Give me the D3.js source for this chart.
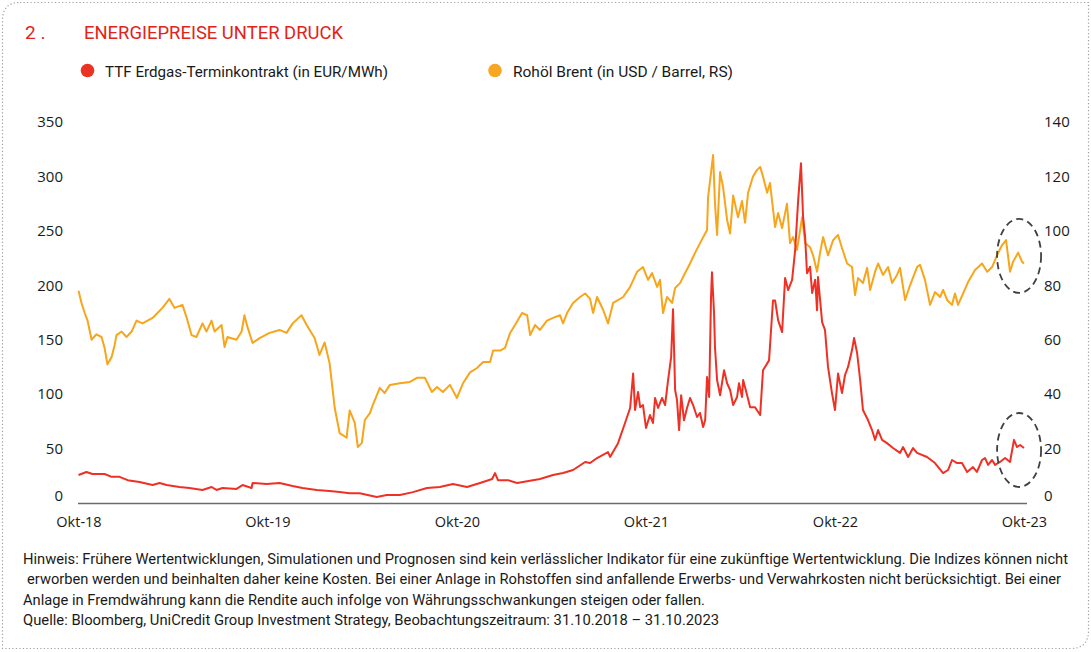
<!DOCTYPE html>
<html><head><meta charset="utf-8">
<script src="https://cdn.jsdelivr.net/npm/d3@7"></script>
<style>body{margin:0;background:#fff;}svg{display:block;}</style>
</head><body>
<svg id="chart" width="1091" height="652"></svg>
<script>
// ---- Data (time in decimal years) ----
const gasTime = [2018.833,2018.875,2018.907,2018.971,2019.008,2019.050,2019.093,2019.156,2019.225,2019.262,2019.299,2019.367,2019.420,2019.489,2019.537,2019.563,2019.595,2019.669,2019.701,2019.749,2019.754,2019.828,2019.897,2019.966,2020.018,2020.093,2020.161,2020.214,2020.267,2020.320,2020.410,2020.463,2020.532,2020.601,2020.675,2020.743,2020.812,2020.886,2020.955,2021.019,2021.034,2021.050,2021.103,2021.151,2021.204,2021.272,2021.341,2021.394,2021.447,2021.511,2021.537,2021.574,2021.632,2021.643,2021.685,2021.722,2021.749,2021.765,2021.775,2021.791,2021.802,2021.817,2021.833,2021.854,2021.870,2021.881,2021.897,2021.918,2021.934,2021.950,2021.966,2021.976,2021.987,2021.997,2022.008,2022.019,2022.034,2022.050,2022.066,2022.082,2022.103,2022.119,2022.135,2022.146,2022.156,2022.167,2022.177,2022.182,2022.193,2022.198,2022.209,2022.225,2022.246,2022.262,2022.278,2022.294,2022.315,2022.325,2022.341,2022.347,2022.368,2022.384,2022.410,2022.437,2022.452,2022.484,2022.505,2022.516,2022.532,2022.553,2022.569,2022.585,2022.606,2022.622,2022.638,2022.653,2022.664,2022.675,2022.685,2022.701,2022.712,2022.728,2022.738,2022.743,2022.765,2022.780,2022.796,2022.817,2022.833,2022.849,2022.870,2022.886,2022.902,2022.923,2022.934,2022.950,2022.966,2022.981,2023.008,2023.029,2023.045,2023.061,2023.082,2023.108,2023.140,2023.177,2023.193,2023.220,2023.246,2023.267,2023.320,2023.362,2023.405,2023.431,2023.452,2023.479,2023.505,2023.532,2023.563,2023.584,2023.611,2023.627,2023.643,2023.664,2023.680,2023.706,2023.733,2023.759,2023.780,2023.796,2023.812,2023.833];
const gasValues = [25.7,28.5,26.6,26.6,24,24,21,19.3,16.5,18.4,16.5,14.7,13.8,12,14.7,12,13.8,12.9,16.5,13.8,18.4,17.5,18.4,15.6,13.8,12,11,10,9,9,5.5,7.3,7.3,10,13.8,14.7,17.5,14.7,18.4,22,27.5,21,21,18.4,20,22,25.7,27.5,30.3,37.7,36.7,41.3,46.8,42.3,55,73.5,87.3,119,85.4,102,88,90,69,80.8,73.5,96.5,87.3,96.5,90,113,134,178,103.8,94.6,67,99,76,87.3,96.5,90,79,82.7,69.8,76,115.7,97.4,189,212,174.5,143,113,99,122,110,103.8,90,97.4,110,97.4,113,99,88,88,80.8,122,131,186,186,168,157,206.7,195.6,205,232,278,312,263,244,211,217,193,205,177,207.6,166,159,125,101,85.4,119,101,117.6,125,140.5,151.6,137.8,113,85.4,76,67,58,67,58,55,50.5,46,51.4,42.3,50.5,46,42.3,36.7,27.5,30.3,39.5,36.7,36.7,28.5,33,28.5,39.5,41.3,35,39.5,35,37.7,41.3,37.7,58,51.4,53.3,50.5];

const brentTime = [2018.833,2018.849,2018.865,2018.881,2018.902,2018.928,2018.955,2018.971,2018.986,2019.008,2019.024,2019.034,2019.061,2019.087,2019.114,2019.140,2019.172,2019.225,2019.277,2019.314,2019.341,2019.383,2019.404,2019.431,2019.457,2019.489,2019.510,2019.537,2019.553,2019.590,2019.606,2019.621,2019.669,2019.696,2019.711,2019.727,2019.754,2019.791,2019.844,2019.897,2019.934,2019.966,2020.013,2020.040,2020.082,2020.108,2020.135,2020.161,2020.188,2020.214,2020.251,2020.267,2020.294,2020.310,2020.331,2020.347,2020.374,2020.389,2020.426,2020.452,2020.479,2020.532,2020.585,2020.622,2020.664,2020.701,2020.728,2020.759,2020.796,2020.833,2020.865,2020.902,2020.939,2020.971,2021.008,2021.024,2021.061,2021.087,2021.114,2021.140,2021.177,2021.204,2021.220,2021.246,2021.272,2021.309,2021.341,2021.378,2021.394,2021.415,2021.447,2021.484,2021.511,2021.537,2021.553,2021.574,2021.606,2021.632,2021.659,2021.712,2021.749,2021.786,2021.817,2021.844,2021.865,2021.892,2021.907,2021.923,2021.944,2021.971,2021.987,2022.013,2022.040,2022.066,2022.093,2022.119,2022.156,2022.161,2022.188,2022.198,2022.209,2022.225,2022.241,2022.262,2022.278,2022.294,2022.320,2022.341,2022.357,2022.373,2022.399,2022.421,2022.437,2022.452,2022.474,2022.489,2022.516,2022.532,2022.553,2022.579,2022.595,2022.611,2022.632,2022.659,2022.675,2022.701,2022.717,2022.738,2022.754,2022.770,2022.796,2022.823,2022.849,2022.870,2022.897,2022.923,2022.939,2022.955,2022.981,2023.003,2023.019,2023.045,2023.061,2023.087,2023.114,2023.135,2023.161,2023.177,2023.204,2023.230,2023.267,2023.283,2023.309,2023.336,2023.362,2023.389,2023.405,2023.426,2023.452,2023.468,2023.484,2023.511,2023.537,2023.574,2023.611,2023.638,2023.664,2023.690,2023.717,2023.738,2023.759,2023.775,2023.802,2023.823,2023.833];
const brentValues = [78,73.5,70,67,60,62,61,57,51,53.6,58,61.7,63,61,63,67,66,68,71.7,75,71.7,72.8,68.4,61.7,61,66,63,67,63,65.4,57.3,61,60,63,69,64.7,58.8,60.6,62.5,63.6,62.5,66,69,65.4,60.6,54.4,59,51.4,35,25.7,24,34,29.4,20.6,22,30.5,33,36,42.3,40.4,43.4,44,44.5,46,46,40.8,42.6,40.8,43.4,38.6,44,48,49.6,51.8,51.8,56,56,57,62.5,65.4,69.8,69,61.7,65.4,63.6,67,68,69,66,69.8,73.5,75.7,77,75,69.8,75.7,71,66,73.5,75.7,79.4,85,86.7,82,84.5,79.4,82,69.8,75.7,73.5,79,80.8,84.5,88,92,95.5,100.3,112,127.9,110,98.5,121.6,116,104,99,113,105,111,103,114,120,122.4,123.5,120,114,117.6,101.4,106.6,101,110,95.5,97.7,93,105,95.5,94,91,85,92,97.7,91,96.6,98.5,93.7,88,86.7,76.4,82.7,80.8,86.4,78.3,85,88,83.8,86.7,80.8,83.8,86.4,74.6,80,86.7,87.5,82,72.8,77.5,75.7,78.3,74.6,72.8,77,72.8,77,81.2,85.6,88,85,86.7,91,94.8,96.6,85,88.6,92,88.6,88];

const leftTicks = [0,50,100,150,200,250,300,350];
const rightTicks = [0,20,40,60,80,100,120,140];
const xTickTimes = [2018.833,2019.833,2020.833,2021.833,2022.833,2023.833];
const xTickLabels = ["Okt-18","Okt-19","Okt-20","Okt-21","Okt-22","Okt-23"];

const seriesNames = ["TTF Erdgas-Terminkontrakt (in EUR/MWh)","Rohöl Brent (in USD / Barrel, RS)"];
const highlightTime = [2023.807, 2023.807];
const highlightValues = [48.7, 90.8]; // gas (left), brent (right)

const titleNumber = "2 .";
const titleText = "ENERGIEPREISE UNTER DRUCK";
const noteLines = [
 "Hinweis: Frühere Wertentwicklungen, Simulationen und Prognosen sind kein verlässlicher Indikator für eine zukünftige Wertentwicklung. Die Indizes können nicht",
 "erworben werden und beinhalten daher keine Kosten. Bei einer Anlage in Rohstoffen sind anfallende Erwerbs- und Verwahrkosten nicht berücksichtigt. Bei einer",
 "Anlage in Fremdwährung kann die Rendite auch infolge von Währungsschwankungen steigen oder fallen.",
 "Quelle: Bloomberg, UniCredit Group Investment Strategy, Beobachtungszeitraum: 31.10.2018 – 31.10.2023"
];

// ---- Drawing ----
const RED = "#ee3124", ORANGE = "#f8a51b";
const svg = d3.select("#chart");
const TXT = "Roboto, 'Noto Sans', sans-serif";
const AX = "'Open Sans', 'DejaVu Sans', sans-serif";

function toDate(t){ const y=Math.floor(t); const s=Date.UTC(y,0,1), e=Date.UTC(y+1,0,1); return new Date(s+(t-y)*(e-s)); }

// border: rounded top-left & bottom-right
svg.append("path")
  .attr("d","M20,2.5 H1088.5 V630.5 Q1088.5,648.5 1070.5,648.5 H2.5 V20.5 Q2.5,2.5 20,2.5 Z")
  .attr("fill","none").attr("stroke","#a0a0a0").attr("stroke-width",1.2).attr("stroke-dasharray","1.2,2.3");

// title
svg.append("text").attr("x",25).attr("y",39).attr("fill","#e2231a").attr("font-family",TXT).attr("font-size",19).text(titleNumber);
svg.append("text").attr("x",84).attr("y",39).attr("fill","#e2231a").attr("font-family",TXT).attr("font-size",19)
  .attr("textLength",259).attr("lengthAdjust","spacingAndGlyphs").text(titleText);

// legend
const legend = [{x:87.5, color:"#ea3323", tx:105, w:283},{x:495, color:"#f7a823", tx:513, w:220}];
legend.forEach((l,i)=>{
  svg.append("circle").attr("cx",l.x).attr("cy",70.5).attr("r",6.8).attr("fill",l.color);
  svg.append("text").attr("x",l.tx).attr("y",76.5).attr("fill","#1a1a1a").attr("font-family",TXT).attr("font-size",15)
    .attr("textLength",l.w).attr("lengthAdjust","spacingAndGlyphs").text(seriesNames[i]);
});

// scales
const x = d3.scaleUtc().domain([toDate(2018.833), toDate(2023.833)]).range([78.5, 1024]);
const yL = d3.scaleLinear().domain([0,350]).range([503,122]);
const yR = d3.scaleLinear().domain([0,140]).range([503,122]);

// left axis labels
const gL = svg.append("g").attr("transform","translate(63,0)")
  .call(d3.axisLeft(yL).tickValues(leftTicks).tickSize(0).tickPadding(0));
gL.select(".domain").remove();
gL.selectAll("text").attr("font-family",AX).attr("font-size",15).attr("fill","#1a1a1a")
  .attr("dy", d=> d===0 ? "-0.2em" : "0.32em");
// right axis labels
const gR = svg.append("g").attr("transform","translate(1044,0)")
  .call(d3.axisRight(yR).tickValues(rightTicks).tickSize(0).tickPadding(0));
gR.select(".domain").remove();
gR.selectAll("text").attr("font-family",AX).attr("font-size",15).attr("fill","#1a1a1a")
  .attr("dy", d=> d===0 ? "-0.2em" : "0.32em");

// x axis
const gX = svg.append("g").attr("transform","translate(0,503)")
  .call(d3.axisBottom(x).tickValues(xTickTimes.map(toDate)).tickFormat((d,i)=>xTickLabels[i]).tickSize(0).tickPadding(14));
gX.select(".domain").attr("d","M78,0.5H1027").attr("stroke","#6b6b6b").attr("stroke-width",1.3);
gX.selectAll("text").attr("font-family",AX).attr("font-size",14.5).attr("fill","#1a1a1a");

// lines
const gasData = gasTime.map((t,i)=>({d:toDate(t), v:gasValues[i]}));
const brentData = brentTime.map((t,i)=>({d:toDate(t), v:brentValues[i]}));
svg.append("path").datum(brentData).attr("fill","none").attr("stroke",ORANGE).attr("stroke-width",2).attr("stroke-linejoin","round")
  .attr("d", d3.line().x(d=>x(d.d)).y(d=>yR(d.v)));
svg.append("path").datum(gasData).attr("fill","none").attr("stroke",RED).attr("stroke-width",2).attr("stroke-linejoin","round")
  .attr("d", d3.line().x(d=>x(d.d)).y(d=>yL(d.v)));

// highlight ellipses
svg.append("ellipse").attr("cx",x(toDate(highlightTime[0]))).attr("cy",yL(highlightValues[0])).attr("rx",22).attr("ry",37)
  .attr("fill","none").attr("stroke","#404040").attr("stroke-width",1.8).attr("stroke-dasharray","7,4.5");
svg.append("ellipse").attr("cx",x(toDate(highlightTime[1]))).attr("cy",yR(highlightValues[1])).attr("rx",22).attr("ry",37)
  .attr("fill","none").attr("stroke","#404040").attr("stroke-width",1.8).attr("stroke-dasharray","7,4.5");

// notes
const noteX = [23, 27, 23, 23];
const noteW = [1045, 1034, 682, 696];
noteLines.forEach((s,i)=>{
  svg.append("text").attr("x",noteX[i]).attr("y",564+i*20.4).attr("fill","#1a1a1a").attr("font-family",TXT).attr("font-size",14.5)
    .attr("textLength",noteW[i]).attr("lengthAdjust","spacingAndGlyphs").text(s);
});
</script>
</body></html>
